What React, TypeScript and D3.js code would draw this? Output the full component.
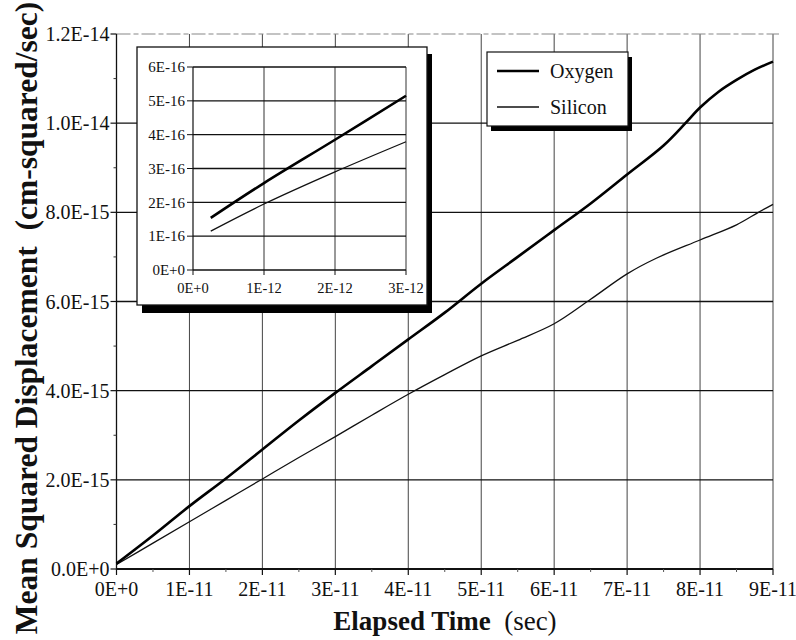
import React from "react";
import * as d3 from "d3";

// ---- data (time in seconds, MSD in cm^2) ----
const oxygenT = [0, 0.5e-11, 1e-11, 1.5e-11, 2e-11, 2.5e-11, 3e-11, 3.5e-11, 4e-11, 4.5e-11, 5e-11, 5.5e-11, 6e-11, 6.5e-11, 7e-11, 7.5e-11, 7.8e-11, 8e-11, 8.25e-11, 8.5e-11, 8.75e-11, 9e-11];
const oxygenV = [0.12e-15, 0.75e-15, 1.41e-15, 2.03e-15, 2.68e-15, 3.33e-15, 3.95e-15, 4.55e-15, 5.15e-15, 5.75e-15, 6.4e-15, 7.0e-15, 7.6e-15, 8.2e-15, 8.85e-15, 9.5e-15, 10.0e-15, 10.35e-15, 10.7e-15, 10.97e-15, 11.2e-15, 11.38e-15];
const siliconT = [0, 0.5e-11, 1e-11, 1.5e-11, 2e-11, 2.5e-11, 3e-11, 3.5e-11, 4e-11, 4.5e-11, 5e-11, 5.5e-11, 6e-11, 6.5e-11, 7e-11, 7.4e-11, 8e-11, 8.5e-11, 8.8e-11, 9e-11];
const siliconV = [0.1e-15, 0.58e-15, 1.06e-15, 1.54e-15, 2.02e-15, 2.5e-15, 2.97e-15, 3.45e-15, 3.92e-15, 4.36e-15, 4.78e-15, 5.13e-15, 5.5e-15, 6.05e-15, 6.62e-15, 6.97e-15, 7.38e-15, 7.72e-15, 8.0e-15, 8.18e-15];

const insetOxygenT = [0.25e-12, 1e-12, 2e-12, 3e-12];
const insetOxygenV = [1.54e-16, 2.57e-16, 3.85e-16, 5.15e-16];
const insetSiliconT = [0.25e-12, 1e-12, 2e-12, 3e-12];
const insetSiliconV = [1.15e-16, 1.95e-16, 2.9e-16, 3.79e-16];

const mainXTicks = [0, 1e-11, 2e-11, 3e-11, 4e-11, 5e-11, 6e-11, 7e-11, 8e-11, 9e-11];
const mainXLabels = ["0E+0", "1E-11", "2E-11", "3E-11", "4E-11", "5E-11", "6E-11", "7E-11", "8E-11", "9E-11"];
const mainYTicks = [0, 2e-15, 4e-15, 6e-15, 8e-15, 1e-14, 1.2e-14];
const mainYLabels = ["0.0E+0", "2.0E-15", "4.0E-15", "6.0E-15", "8.0E-15", "1.0E-14", "1.2E-14"];
const mainYMinor = [1e-15, 3e-15, 5e-15, 7e-15, 9e-15, 1.1e-14];
const mainXMinor = [0.5e-11, 1.5e-11, 2.5e-11, 3.5e-11, 4.5e-11, 5.5e-11, 6.5e-11, 7.5e-11, 8.5e-11];

const insetXTicks = [0, 1e-12, 2e-12, 3e-12];
const insetXLabels = ["0E+0", "1E-12", "2E-12", "3E-12"];
const insetYTicks = [0, 1e-16, 2e-16, 3e-16, 4e-16, 5e-16, 6e-16];
const insetYLabels = ["0E+0", "1E-16", "2E-16", "3E-16", "4E-16", "5E-16", "6E-16"];

const seriesNames = ["Oxygen", "Silicon"];

const FONT = '"Liberation Serif"';

export default function App() {
  const x = d3.scaleLinear().domain([0, 9e-11]).range([116.5, 773]);
  const y = d3.scaleLinear().domain([0, 1.2e-14]).range([569, 34]);
  const ix = d3.scaleLinear().domain([0, 3e-12]).range([193, 406]);
  const iy = d3.scaleLinear().domain([0, 6e-16]).range([270, 67]);

  const pathOf = (ts: number[], vs: number[], sx: any, sy: any) =>
    d3
      .line<[number, number]>()
      .x((d) => sx(d[0]))
      .y((d) => sy(d[1]))
      .curve(d3.curveCatmullRom.alpha(0.5))(ts.map((t, i) => [t, vs[i]] as [number, number])) as string;

  const [x0, x1] = x.range();
  const [y0, y1] = y.range();
  const [ix0, ix1] = ix.range();
  const [iy0, iy1] = iy.range();

  const tStyle: React.CSSProperties = { fontFamily: FONT };

  return (
    <svg
      width={796}
      height={640}
      style={{ position: "absolute", left: 0, top: 0, background: "#fff" }}
    >
      <rect x={0} y={0} width={796} height={640} fill="#fff" />

      {/* main grid */}
      {mainXTicks.slice(1).map((t) => (
        <line key={"gx" + t} x1={x(t)} x2={x(t)} y1={y1} y2={y0} stroke="#444" strokeWidth={1} />
      ))}
      {mainYTicks.slice(1, -1).map((v) => (
        <line key={"gy" + v} x1={x0} x2={x1} y1={y(v)} y2={y(v)} stroke="#111" strokeWidth={1.4} />
      ))}
      {/* top border (faint) */}
      <line x1={x0} x2={x1 + 6} y1={y1} y2={y1} stroke="#888" strokeWidth={1.2} strokeDasharray="14 3 5 3" />

      {/* axes */}
      <line x1={x0} x2={x0} y1={y1} y2={y0 + 1} stroke="#111" strokeWidth={1.3} />
      <line x1={x0} x2={x1} y1={y0} y2={y0} stroke="#111" strokeWidth={2} />

      {/* main ticks */}
      {mainYTicks.map((v) => (
        <line key={"ty" + v} x1={x0 - 6} x2={x0} y1={y(v)} y2={y(v)} stroke="#111" strokeWidth={1.2} />
      ))}
      {mainYMinor.map((v) => (
        <line key={"tym" + v} x1={x0 - 3} x2={x0} y1={y(v)} y2={y(v)} stroke="#333" strokeWidth={1} />
      ))}
      {mainXTicks.map((t) => (
        <line key={"tx" + t} x1={x(t)} x2={x(t)} y1={y0} y2={y0 + 6} stroke="#111" strokeWidth={1.2} />
      ))}
      {mainXMinor.map((t) => (
        <line key={"txm" + t} x1={x(t)} x2={x(t)} y1={y0} y2={y0 + 3} stroke="#555" strokeWidth={1} />
      ))}

      {/* main tick labels */}
      {mainYTicks.map((v, i) => (
        <text key={"ly" + v} style={tStyle} x={x0 - 7} y={y(v)} dy="0.35em" textAnchor="end" fontSize={20} fill="#111">
          {mainYLabels[i]}
        </text>
      ))}
      {mainXTicks.map((t, i) => (
        <text key={"lx" + t} style={tStyle} x={x(t)} y={y0 + 27} textAnchor="middle" fontSize={20} fill="#111">
          {mainXLabels[i]}
        </text>
      ))}

      {/* axis titles */}
      <text style={tStyle} x={445} y={630} textAnchor="middle" fontSize={27} fill="#111">
        <tspan fontWeight="bold">Elapsed Time</tspan>
        <tspan>{"\u00a0\u00a0(sec)"}</tspan>
      </text>
      <text
        style={tStyle}
        transform="translate(37,318) rotate(-90)"
        textAnchor="middle"
        fontSize={31.5}
        fontWeight="bold"
        fill="#111"
      >
        {"Mean Squared Displacement\u00a0\u00a0(cm-squared/sec)"}
      </text>

      {/* main series */}
      <path d={pathOf(siliconT, siliconV, x, y)} fill="none" stroke="#111" strokeWidth={1.3} />
      <path d={pathOf(oxygenT, oxygenV, x, y)} fill="none" stroke="#000" strokeWidth={2.6} />

      {/* legend */}
      <rect x={491} y={57} width={141} height={74} fill="#000" />
      <rect x={487} y={52} width={141} height={74} fill="#fff" stroke="#111" strokeWidth={1.2} />
      <line x1={497} x2={539} y1={71} y2={71} stroke="#000" strokeWidth={2.6} />
      <text style={tStyle} x={550} y={78} fontSize={20} fill="#111">{seriesNames[0]}</text>
      <line x1={497} x2={539} y1={107} y2={107} stroke="#111" strokeWidth={1.3} />
      <text style={tStyle} x={550} y={114} fontSize={20} fill="#111">{seriesNames[1]}</text>

      {/* inset */}
      <rect x={142} y={54} width={290} height={259} fill="#000" />
      <rect x={137} y={47} width={290} height={258} fill="#fff" stroke="#111" strokeWidth={1.3} />

      {insetXTicks.slice(1).map((t) => (
        <line key={"igx" + t} x1={ix(t)} x2={ix(t)} y1={iy1} y2={iy0} stroke="#333" strokeWidth={1} />
      ))}
      {insetYTicks.slice(1).map((v) => (
        <line key={"igy" + v} x1={ix0} x2={ix1} y1={iy(v)} y2={iy(v)} stroke="#111" strokeWidth={1.3} />
      ))}
      <line x1={ix0} x2={ix0} y1={iy1} y2={iy0} stroke="#111" strokeWidth={1.2} />
      <line x1={ix0} x2={ix1} y1={iy0} y2={iy0} stroke="#111" strokeWidth={1.6} />
      {insetYTicks.map((v) => (
        <line key={"ity" + v} x1={ix0 - 6} x2={ix0} y1={iy(v)} y2={iy(v)} stroke="#111" strokeWidth={1} />
      ))}
      {insetXTicks.map((t) => (
        <line key={"itx" + t} x1={ix(t)} x2={ix(t)} y1={iy0} y2={iy0 + 5} stroke="#111" strokeWidth={1} />
      ))}
      {insetYTicks.map((v, i) => (
        <text key={"ily" + v} style={tStyle} x={ix0 - 8} y={iy(v)} dy="0.35em" textAnchor="end" fontSize={15} fill="#111">
          {insetYLabels[i]}
        </text>
      ))}
      {insetXTicks.map((t, i) => (
        <text key={"ilx" + t} style={tStyle} x={ix(t)} y={iy0 + 23} textAnchor="middle" fontSize={14.5} fill="#111">
          {insetXLabels[i]}
        </text>
      ))}
      <path d={pathOf(insetSiliconT, insetSiliconV, ix, iy)} fill="none" stroke="#111" strokeWidth={1.3} />
      <path d={pathOf(insetOxygenT, insetOxygenV, ix, iy)} fill="none" stroke="#000" strokeWidth={2.6} />
    </svg>
  );
}
